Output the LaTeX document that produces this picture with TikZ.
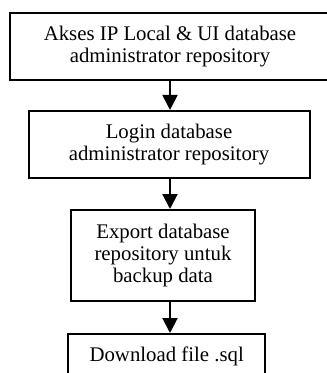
\documentclass[tikz,border=0pt]{standalone}
\usepackage{fontspec}
\setmainfont{Liberation Serif}
\usetikzlibrary{arrows.meta}
\begin{document}
\begin{tikzpicture}[x=1pt,y=-1pt,
  stepbox/.style={draw, line width=2pt, rectangle, inner sep=0pt, align=center,
    font=\fontsize{20.8}{22}\selectfont},
  flow/.style={line width=2pt, -{Triangle[length=15pt,width=15pt]}}]
\clip (0,0) rectangle (327,373);
\useasboundingbox (0,0) rectangle (327,373);
\node[stepbox, minimum width=320pt, minimum height=67pt] (b1) at (170,46.8)
  {Akses IP Local \& UI database\\administrator repository};
\node[stepbox, minimum width=281pt, minimum height=67.5pt] (b2) at (169,144.7)
  {Login database\\administrator repository};
\node[stepbox, minimum width=184pt, minimum height=91pt] (b3) at (163,255.5)
  {Export database\\repository untuk\\backup data};
\node[stepbox, minimum width=197.5pt, minimum height=44pt] (b4) at (166.7,356)
  {Download file .sql};
\draw[flow] (b1.south) -- (b2.north -| b1.south);
\draw[flow] (b2.south -| b1.south) -- (b3.north -| b1.south);
\draw[flow] (b3.south -| b1.south) -- (b4.north -| b1.south);
\end{tikzpicture}
\end{document}
